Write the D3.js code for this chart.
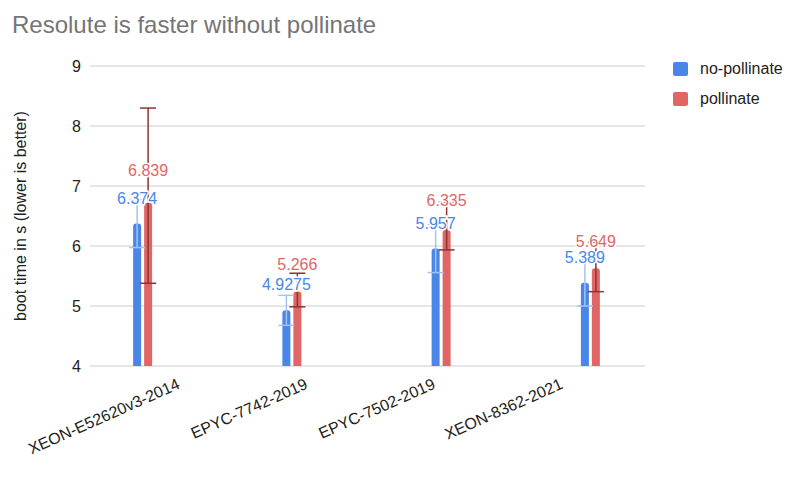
<!DOCTYPE html>
<html>
<head>
<meta charset="utf-8">
<script src="https://cdn.jsdelivr.net/npm/d3@7/dist/d3.min.js"></script>
<style>
  html, body { margin: 0; padding: 0; background: #fff; }
  svg { display: block; font-family: "Liberation Sans", Arial, sans-serif; }
</style>
</head>
<body>
<div id="chart"></div>
<script>
// Boot time per machine, with and without pollinate.
const categories = ["XEON-E52620v3-2014", "EPYC-7742-2019", "EPYC-7502-2019", "XEON-8362-2021"];
const seriesNames = ["no-pollinate", "pollinate"];

// bar heights as drawn
const noPollinateBars = [6.374, 4.9275, 5.957, 5.389];
const pollinateBars   = [6.72, 5.24, 6.27, 5.63];

// annotated means (also the centre of the error bars)
const noPollinateMeans = [6.374, 4.9275, 5.957, 5.389];
const pollinateMeans   = [6.839, 5.266, 6.335, 5.649];

// error bar half-widths
const noPollinateErr = [0.40, 0.25, 0.40, 0.39];
const pollinateErr   = [1.46, 0.28, 0.40, 0.41];

const yTicks = [4, 5, 6, 7, 8, 9];

const W = 800, H = 483;
const COLORS = { "no-pollinate": "#4a86e8", "pollinate": "#e06666" };
const ERR_COLORS = { "no-pollinate": "#a4c2f4", "pollinate": "#8c3434" };

const svg = d3.select("#chart").append("svg")
  .attr("width", W).attr("height", H);

const y = d3.scaleLinear().domain([4, 9]).range([366, 66]);
const x = d3.scaleBand().domain(categories).range([68, 665]);
const xInner = d3.scaleBand().domain(seriesNames).range([-9.5, 9.5]).paddingInner(0.27);
// rotated category labels are spread on their own step
const xLabel = d3.scalePoint().domain(categories).range([181, 564]);

// title
svg.append("text")
  .attr("x", 12).attr("y", 33)
  .attr("font-size", 24)
  .attr("fill", "#757575")
  .text("Resolute is faster without pollinate");

// grid + y ticks
const gGrid = svg.append("g");
gGrid.selectAll("line").data(yTicks).join("line")
  .attr("x1", 90).attr("x2", 645)
  .attr("y1", d => y(d)).attr("y2", d => y(d))
  .attr("stroke", "#cccccc").attr("stroke-width", 1);
gGrid.selectAll("text").data(yTicks).join("text")
  .attr("x", 81).attr("y", d => y(d) + 6)
  .attr("text-anchor", "end")
  .attr("font-size", 16)
  .attr("fill", "#222")
  .text(d => d);

// y axis title
svg.append("text")
  .attr("transform", `translate(26,${(y(4) + y(9)) / 2}) rotate(-90)`)
  .attr("text-anchor", "middle")
  .attr("font-size", 16)
  .attr("fill", "#222")
  .text("boot time in s (lower is better)");

// x labels
svg.append("g").selectAll("text").data(categories).join("text")
  .attr("transform", d => `translate(${xLabel(d)},${388}) rotate(-24)`)
  .attr("text-anchor", "end")
  .attr("font-size", 16)
  .attr("fill", "#222")
  .text(d => d);

// assemble rows
const rows = [];
categories.forEach((c, i) => {
  rows.push({ cat: c, s: "no-pollinate", bar: noPollinateBars[i], mean: noPollinateMeans[i], err: noPollinateErr[i] });
  rows.push({ cat: c, s: "pollinate", bar: pollinateBars[i], mean: pollinateMeans[i], err: pollinateErr[i] });
});

const cx = d => x(d.cat) + x.bandwidth() / 2 + xInner(d.s) + xInner.bandwidth() / 2;
const bw = xInner.bandwidth();

function barPath(d) {
  const x0 = cx(d) - bw / 2, x1 = cx(d) + bw / 2;
  const y0 = y(4), y1 = y(d.bar);
  const r = Math.min(3, bw / 2);
  return `M${x0},${y0}V${y1 + r}Q${x0},${y1} ${x0 + r},${y1}H${x1 - r}Q${x1},${y1} ${x1},${y1 + r}V${y0}Z`;
}

svg.append("g").selectAll("path").data(rows).join("path")
  .attr("d", barPath)
  .attr("fill", d => COLORS[d.s]);

// error bars
const gErr = svg.append("g");
const eb = gErr.selectAll("g").data(rows).join("g")
  .attr("stroke", d => ERR_COLORS[d.s])
  .attr("stroke-width", 1.5);
eb.append("line")
  .attr("x1", cx).attr("x2", cx)
  .attr("y1", d => y(d.mean + d.err)).attr("y2", d => y(d.mean - d.err));
[1, -1].forEach(sgn => {
  eb.append("line")
    .attr("x1", d => cx(d) - 8).attr("x2", d => cx(d) + 8)
    .attr("y1", d => y(d.mean + sgn * d.err)).attr("y2", d => y(d.mean + sgn * d.err));
});

// value annotations (white aura like the original)
svg.append("g").selectAll("text").data(rows).join("text")
  .attr("x", cx)
  .attr("y", d => y(d.mean) - 20)
  .attr("text-anchor", "middle")
  .attr("font-size", 16)
  .attr("fill", d => COLORS[d.s])
  .attr("stroke", "#fff").attr("stroke-width", 3)
  .attr("paint-order", "stroke")
  .text(d => String(d.mean));

// legend
const legend = svg.append("g").selectAll("g").data(seriesNames).join("g")
  .attr("transform", (d, i) => `translate(673,${62 + i * 30})`);
legend.append("rect")
  .attr("width", 15).attr("height", 14).attr("rx", 2)
  .attr("fill", d => COLORS[d]);
legend.append("text")
  .attr("x", 27).attr("y", 12)
  .attr("font-size", 16)
  .attr("fill", "#222")
  .text(d => d);
</script>
</body>
</html>
